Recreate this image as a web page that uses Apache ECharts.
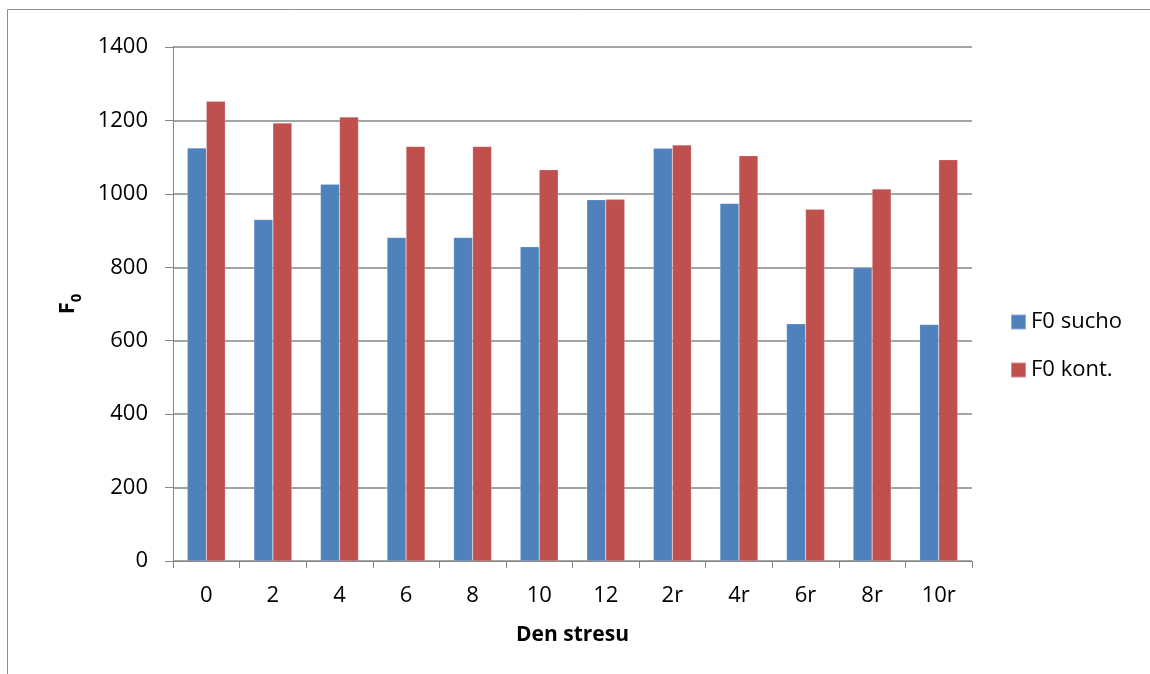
<!DOCTYPE html>
<html>
<head>
<meta charset="utf-8">
<script src="https://cdn.jsdelivr.net/npm/echarts@6/dist/echarts.min.js"></script>
<style>
  html, body { margin: 0; padding: 0; background: #ffffff; }
  #chart { width: 1150px; height: 674px; }
</style>
</head>
<body>
<div id="chart"></div>
<script>
// Days of stress (r = recovery days)
const categories = ['0', '2', '4', '6', '8', '10', '12', '2r', '4r', '6r', '8r', '10r'];
// F0 under drought
const f0Sucho = [1125, 930, 1026, 881, 881, 856, 984, 1124, 974, 646, 799, 644];
// F0 in control plants
const f0Kont = [1252, 1193, 1209, 1129, 1129, 1066, 985, 1133, 1104, 958, 1013, 1093];
const seriesNames = ['F0 sucho', 'F0 kont.'];
const yMin = 0, yMax = 1400, yStep = 200;

const FONT = '"Open Sans", "Liberation Sans", sans-serif';
const GRID_COLOR = '#868686';

const chart = echarts.init(document.getElementById('chart'), null, { renderer: 'canvas' });

chart.setOption({
  animation: false,
  backgroundColor: '#ffffff',
  textStyle: { fontFamily: FONT, color: '#000' },
  graphic: [{
    type: 'rect',
    silent: true,
    shape: { x: 7.5, y: 9.5, width: 1200, height: 700 },
    style: { fill: 'none', stroke: '#8c8c8c', lineWidth: 1 }
  }],
  grid: { left: 173, right: 178, top: 47, bottom: 113, containLabel: false },
  legend: {
    orient: 'vertical',
    left: 1005,
    top: 306,
    itemWidth: 15,
    itemHeight: 15,
    itemGap: 26,
    icon: 'rect',
    textStyle: { fontFamily: FONT, fontSize: 22, color: '#000' },
    data: seriesNames
  },
  xAxis: {
    type: 'category',
    data: categories,
    name: 'Den stresu',
    nameLocation: 'middle',
    nameGap: 64,
    nameTextStyle: { fontFamily: FONT, fontSize: 21, fontWeight: 'bold', color: '#000' },
    axisLine: { lineStyle: { color: GRID_COLOR, width: 1 } },
    axisTick: { show: true, length: 7, alignWithLabel: false, lineStyle: { color: GRID_COLOR } },
    axisLabel: { fontFamily: FONT, fontSize: 22, color: '#000', margin: 24 },
    splitLine: { show: false }
  },
  yAxis: {
    type: 'value',
    min: yMin,
    max: yMax,
    interval: yStep,
    name: '{f|F}{s|0}',
    nameLocation: 'middle',
    nameRotate: 90,
    nameGap: 94,
    nameTextStyle: {
      rich: {
        f: { fontFamily: FONT, fontSize: 22, fontWeight: 'bold', color: '#000', verticalAlign: 'bottom', lineHeight: 26 },
        s: { fontFamily: FONT, fontSize: 15, fontWeight: 'bold', color: '#000', verticalAlign: 'bottom', lineHeight: 20, padding: [0, 0, -5, 0] }
      }
    },
    axisLine: { show: true, lineStyle: { color: GRID_COLOR, width: 1 } },
    axisTick: { show: true, length: 8, lineStyle: { color: GRID_COLOR } },
    axisLabel: {
      fontFamily: FONT, fontSize: 22, color: '#000', margin: 25,
      formatter: (v) => String(v)
    },
    splitLine: { show: true, lineStyle: { color: GRID_COLOR, width: 1.5 } }
  },
  series: [
    {
      name: seriesNames[0],
      type: 'bar',
      data: f0Sucho,
      barWidth: 19,
      barGap: '0%',
      itemStyle: { color: '#4F81BD', borderColor: 'rgba(255,255,255,0.35)', borderWidth: 0.5 }
    },
    {
      name: seriesNames[1],
      type: 'bar',
      data: f0Kont,
      barWidth: 19,
      barGap: '0%',
      itemStyle: { color: '#C0504D', borderColor: 'rgba(255,255,255,0.35)', borderWidth: 0.5 }
    }
  ]
});
</script>
</body>
</html>
